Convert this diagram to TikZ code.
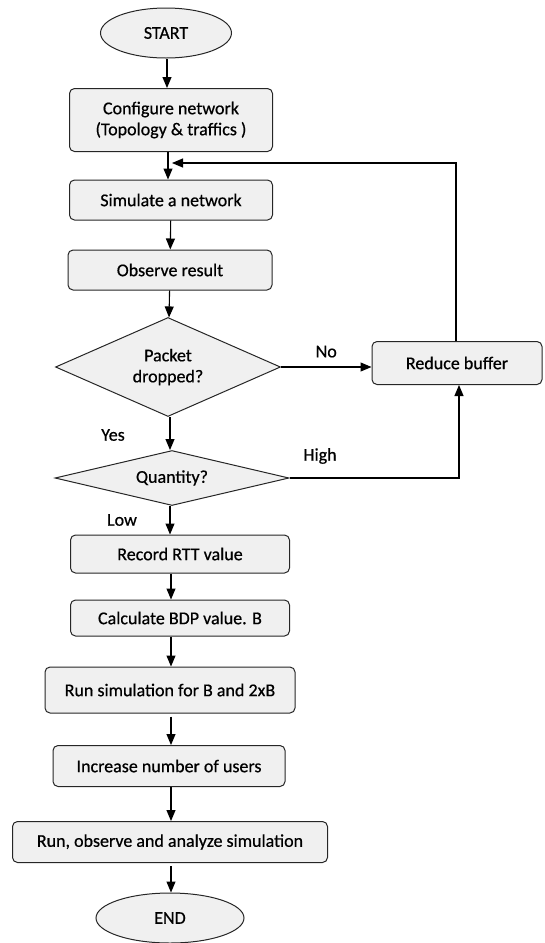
\documentclass[tikz,border=0pt]{standalone}
\usepackage{fontspec}
\setmainfont{Carlito}[FakeBold=0.6]
\usetikzlibrary{shapes.geometric,arrows.meta}
\begin{document}
\begin{tikzpicture}[x=1pt,y=-1pt,
  base/.style={draw=black!85, fill=gray!12, line width=1pt, font=\fontsize{18}{21}\selectfont, inner sep=0pt, align=center},
  procbox/.style={base, rectangle, rounded corners=5pt},
  termbox/.style={base, ellipse},
  decbox/.style={base, diamond, aspect=2.2},
  flow/.style={line width=1.1pt, -{Triangle[length=11pt,width=9pt]}},
  lbl/.style={font=\fontsize{18}{21}\selectfont, inner sep=0pt}]
\useasboundingbox (0,0) rectangle (544,943);
\node[termbox, minimum width=131pt, minimum height=50pt] (start) at (166,33) {START};
\node[procbox, minimum width=203pt, minimum height=63pt] (conf) at (171,120) {Configure network\\(Topology \& traffics )};
\node[procbox, minimum width=203pt, minimum height=40pt] (sim) at (171,200) {Simulate a network};
\node[procbox, minimum width=204pt, minimum height=40pt] (obs) at (170,270) {Observe result};
\node[decbox, minimum width=225pt, minimum height=99pt] (pkt) at (168,367) {Packet\\dropped?};
\node[procbox, minimum width=170pt, minimum height=43pt] (red) at (457,363) {Reduce buffer};
\node[decbox, minimum width=234pt, minimum height=55pt] (qty) at (172,478) {Quantity?};
\node[procbox, minimum width=219pt, minimum height=38pt] (rtt) at (180,554) {Record RTT value};
\node[procbox, minimum width=219pt, minimum height=36pt] (bdp) at (180,618) {Calculate BDP value. B};
\node[procbox, minimum width=250pt, minimum height=46pt] (run) at (170,690) {Run simulation for B and 2xB};
\node[procbox, minimum width=232pt, minimum height=41pt] (inc) at (169,766) {Increase number of users};
\node[procbox, minimum width=315pt, minimum height=41pt] (ana) at (170,842) {Run, observe and analyze simulation};
\node[termbox, minimum width=148pt, minimum height=50pt] (fin) at (170,918) {END};
\coordinate (fb) at (172,163);
\draw[flow] (start.south -| 167,0) -- (conf.north -| 167,0);
\draw[flow] (conf.south -| 168,0) -- (sim.north -| 168,0);
\draw[flow] (sim) -- (obs);
\draw[flow] (obs) -- (pkt);
\draw[flow] (pkt.east) -- (red.west |- pkt.east) node[lbl, midway, above=9pt] {No};
\draw[flow] (red.north -| 456,0) |- (fb);
\draw[flow] (pkt.south -| 170,0) -- (qty.north -| 170,0);
\node[lbl] (yes) at (113,435) {Yes};
\draw[flow] (qty.east) -| (red.south -| 459,0);
\node[lbl] (high) at (320,456) {High};
\draw[flow] (qty.south -| 170,0) -- (rtt.north -| 170,0);
\node[lbl] (low) at (122,520) {Low};
\draw[flow] (rtt.south -| 171,0) -- (bdp.north -| 171,0);
\draw[flow] (bdp.south -| 171,0) -- (run.north -| 171,0);
\draw[flow] (run.south -| 171,0) ++(0,3) -- (inc.north -| 171,0);
\draw[flow] (inc.south -| 171,0) -- (ana.north -| 171,0);
\draw[flow] (ana.south -| 171,0) ++(0,3) -- (fin.north -| 171,0);
\end{tikzpicture}
\end{document}
